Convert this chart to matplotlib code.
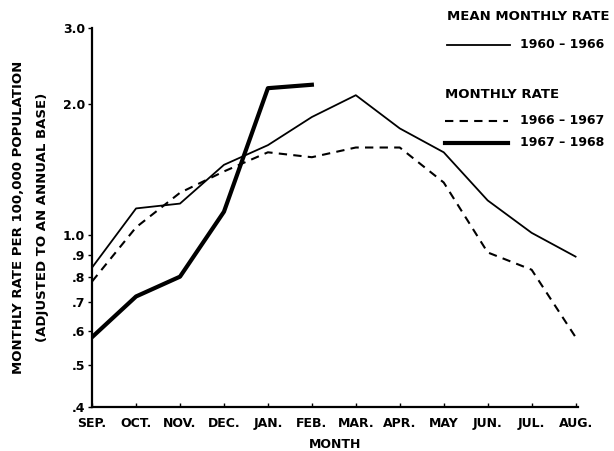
import numpy as np
import matplotlib
matplotlib.use("Agg")
import matplotlib.pyplot as plt
from matplotlib.lines import Line2D
from matplotlib.ticker import FixedLocator, NullLocator

# Data (rate per 100,000, log axis)
months = ["SEP.", "OCT.", "NOV.", "DEC.", "JAN.", "FEB.", "MAR.", "APR.",
          "MAY", "JUN.", "JUL.", "AUG."]
mean_1960_66 = [0.84, 1.15, 1.18, 1.45, 1.61, 1.87, 2.10, 1.76, 1.55, 1.20, 1.01, 0.89]
rate_1966_67 = [0.78, 1.04, 1.25, 1.40, 1.55, 1.51, 1.59, 1.59, 1.32, 0.91, 0.83, 0.58]
rate_1967_68 = [0.58, 0.72, 0.80, 1.13, 2.18, 2.22]

y_ticks = [0.4, 0.5, 0.6, 0.7, 0.8, 0.9, 1.0, 2.0, 3.0]
y_labels = [".4", ".5", ".6", ".7", ".8", ".9", "1.0", "2.0", "3.0"]

plt.rcParams['font.family'] = 'DejaVu Sans'
plt.rcParams['font.weight'] = 'bold'
plt.rcParams['axes.labelweight'] = 'bold'

fs = 9
fig = plt.figure(figsize=(6.14, 4.51), dpi=100)
ax = fig.add_axes([0.150, 0.0976, 0.791, 0.840])

x = np.arange(len(months))
ax.plot(x, mean_1960_66, color='black', lw=1.3)
ax.plot(x, rate_1966_67, color='black', lw=1.5, linestyle=(0, (4, 3)))
ax.plot(x[:len(rate_1967_68)], rate_1967_68, color='black', lw=3.0)

ax.set_yscale('log')
ax.set_ylim(0.4, 3.0)
ax.set_xlim(0, 11.05)
ax.yaxis.set_major_locator(FixedLocator(y_ticks))
ax.yaxis.set_minor_locator(NullLocator())
ax.set_yticklabels(y_labels, fontsize=fs)
ax.set_xticks(x)
ax.set_xticklabels(months, fontsize=fs)
ax.tick_params(axis='y', direction='out', length=3, width=1, pad=2)
ax.tick_params(axis='x', direction='in', length=3, width=1, pad=7)

ax.spines['top'].set_visible(False)
ax.spines['right'].set_visible(False)
ax.spines['left'].set_linewidth(1.6)
ax.spines['bottom'].set_linewidth(1.6)

ax.set_xlabel("MONTH", fontsize=fs, labelpad=6)
ax.set_ylabel("MONTHLY RATE PER 100,000 POPULATION\n(ADJUSTED TO AN ANNUAL BASE)",
              fontsize=9.5, labelpad=10, linespacing=2.15)

# hand-drawn legend at top right
fig.text(447/614, 1 - 17/451, "MEAN MONTHLY RATE", fontsize=9.5, va='center')
fig.add_artist(Line2D([447/614, 510/614], [1 - 45/451] * 2, color='black', lw=1.3))
fig.text(520/614, 1 - 45/451, "1960 \u2013 1966", fontsize=fs, va='center')
fig.text(445/614, 1 - 95/451, "MONTHLY RATE", fontsize=9.5, va='center')
fig.add_artist(Line2D([445/614, 508/614], [1 - 121/451] * 2, color='black', lw=1.5,
                      linestyle=(0, (4, 3))))
fig.text(520/614, 1 - 121/451, "1966 \u2013 1967", fontsize=fs, va='center')
fig.add_artist(Line2D([445/614, 508/614], [1 - 143/451] * 2, color='black', lw=3.0))
fig.text(520/614, 1 - 143/451, "1967 \u2013 1968", fontsize=fs, va='center')

fig.savefig("out.png", dpi=100)
